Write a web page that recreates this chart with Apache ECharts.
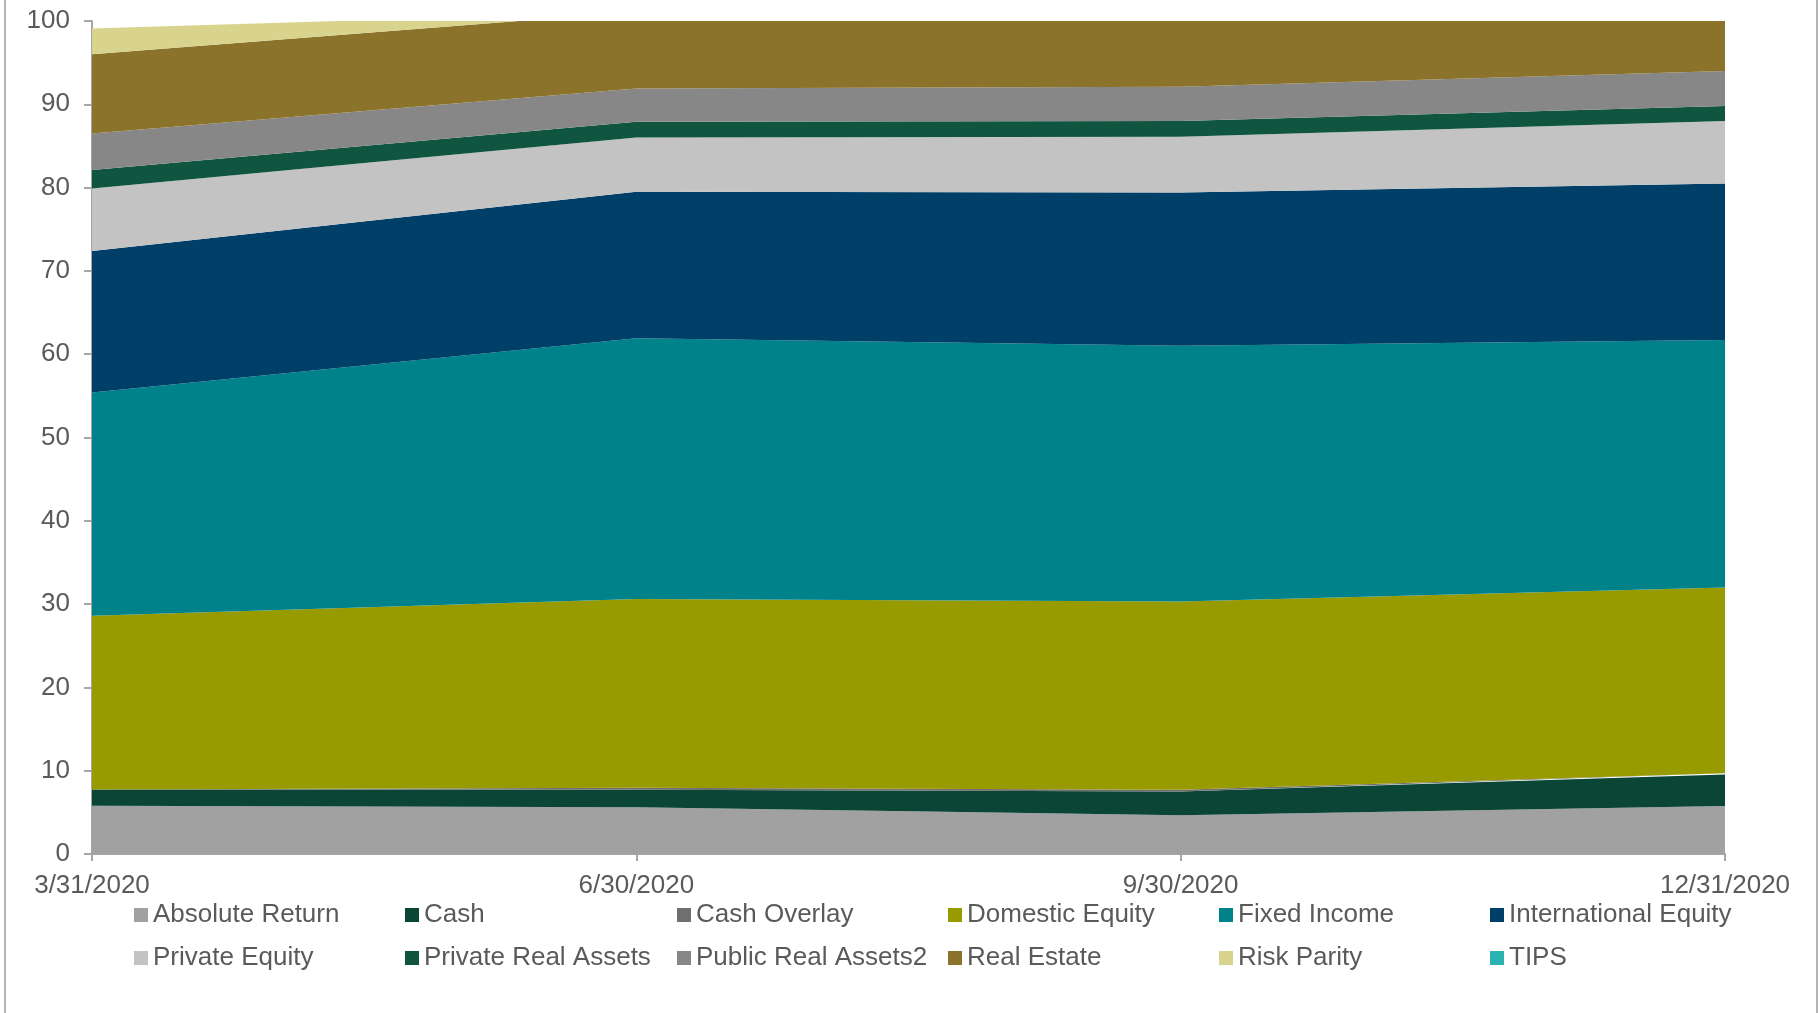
<!DOCTYPE html>
<html>
<head>
<meta charset="utf-8">
<script src="https://cdn.jsdelivr.net/npm/echarts@6/dist/echarts.min.js"></script>
<style>
html,body{margin:0;padding:0;background:#fff;}
#chart{width:1818px;height:1013px;}
</style>
</head>
<body>
<div id="chart"></div>
<script>
var categories = ['3/31/2020', '6/30/2020', '9/30/2020', '12/31/2020'];
var yTicks = [0, 10, 20, 30, 40, 50, 60, 70, 80, 90, 100];

var seriesNames = ['Absolute Return', 'Cash', 'Cash Overlay', 'Domestic Equity', 'Fixed Income',
  'International Equity', 'Private Equity', 'Private Real Assets', 'Public Real Assets2',
  'Real Estate', 'Risk Parity', 'TIPS'];

var absoluteReturn     = [5.8, 5.6, 4.65, 5.75];
var cash               = [1.95, 2.1, 2.85, 3.8];
var cashOverlay        = [0.0, 0.25, 0.2, 0.15];
var domesticEquity     = [20.85, 22.65, 22.6, 22.3];
var fixedIncome        = [26.8, 31.3, 30.7, 29.7];
var internationalEquity= [17.0, 17.6, 18.4, 18.8];
var privateEquity      = [7.5, 6.5, 6.7, 7.5];
var privateRealAssets  = [2.2, 1.9, 1.9, 1.8];
var publicRealAssets2  = [4.4, 4.0, 4.1, 4.2];
var realEstate         = [9.5, 9.2, 8.3, 6.3];
var riskParity         = [3.1, 0.0, 0.0, 0.0];
var tips               = [0.0, 0.0, 0.0, 0.0];

var seriesData = [absoluteReturn, cash, cashOverlay, domesticEquity, fixedIncome,
  internationalEquity, privateEquity, privateRealAssets, publicRealAssets2,
  realEstate, riskParity, tips];

var colors = ['#a1a1a1', '#0a4535', '#6f6f6f', '#989b00', '#00828a', '#003f68',
  '#c3c3c3', '#105540', '#878787', '#8b732b', '#d9d48d', '#2ab3b0'];

var FONT = 'Liberation Sans, Arial, sans-serif';
var TXT = '#5a5a5a';
var AXIS = '#a6a6a6';
var FS = 26;

var series = seriesNames.map(function (name, i) {
  return {
    name: name,
    type: 'line',
    stack: 'total',
    data: seriesData[i],
    symbol: 'none',
    showSymbol: false,
    lineStyle: { width: 0, color: colors[i] },
    itemStyle: { color: colors[i] },
    areaStyle: { color: colors[i], opacity: 1 },
    emphasis: { disabled: true },
    silent: true
  };
});

// legend: 2 rows x 6 columns
var colLeft = [134, 405, 677, 948, 1219, 1490];
var rowTop = [902, 945];
var legends = seriesNames.map(function (name, i) {
  return {
    data: [name],
    left: colLeft[i % 6],
    top: rowTop[Math.floor(i / 6)],
    padding: 0,
    icon: 'rect',
    itemWidth: 14,
    itemHeight: 14,
    itemGap: 0,
    selectedMode: false,
    textStyle: { color: TXT, fontSize: FS, fontFamily: FONT }
  };
});

var chart = echarts.init(document.getElementById('chart'), null, { renderer: 'canvas' });
chart.setOption({
  animation: false,
  backgroundColor: '#ffffff',
  color: colors,
  grid: { left: 92, right: 93, top: 21, bottom: 159, containLabel: false },
  legend: legends,
  xAxis: {
    type: 'category',
    data: categories,
    boundaryGap: false,
    axisLine: { show: true, lineStyle: { color: AXIS, width: 2 } },
    axisTick: { show: true, length: 7, lineStyle: { color: AXIS, width: 2 } },
    axisLabel: { color: TXT, fontSize: FS, fontFamily: FONT, margin: 19, showMinLabel: true, showMaxLabel: true },
    splitLine: { show: false }
  },
  yAxis: {
    type: 'value',
    min: yTicks[0],
    max: yTicks[yTicks.length - 1],
    interval: yTicks[1] - yTicks[0],
    axisLine: { show: true, lineStyle: { color: AXIS, width: 2 } },
    axisTick: { show: true, length: 8, lineStyle: { color: AXIS, width: 2 } },
    axisLabel: { color: TXT, fontSize: FS, fontFamily: FONT, margin: 22 },
    splitLine: { show: false }
  },
  graphic: [
    { type: 'line', shape: { x1: 5, y1: 0, x2: 5, y2: 1013 }, style: { stroke: '#b4b4b4', lineWidth: 2 } },
    { type: 'line', shape: { x1: 1817, y1: 0, x2: 1817, y2: 1013 }, style: { stroke: '#b4b4b4', lineWidth: 2 } }
  ],
  series: series
});
</script>
</body>
</html>
